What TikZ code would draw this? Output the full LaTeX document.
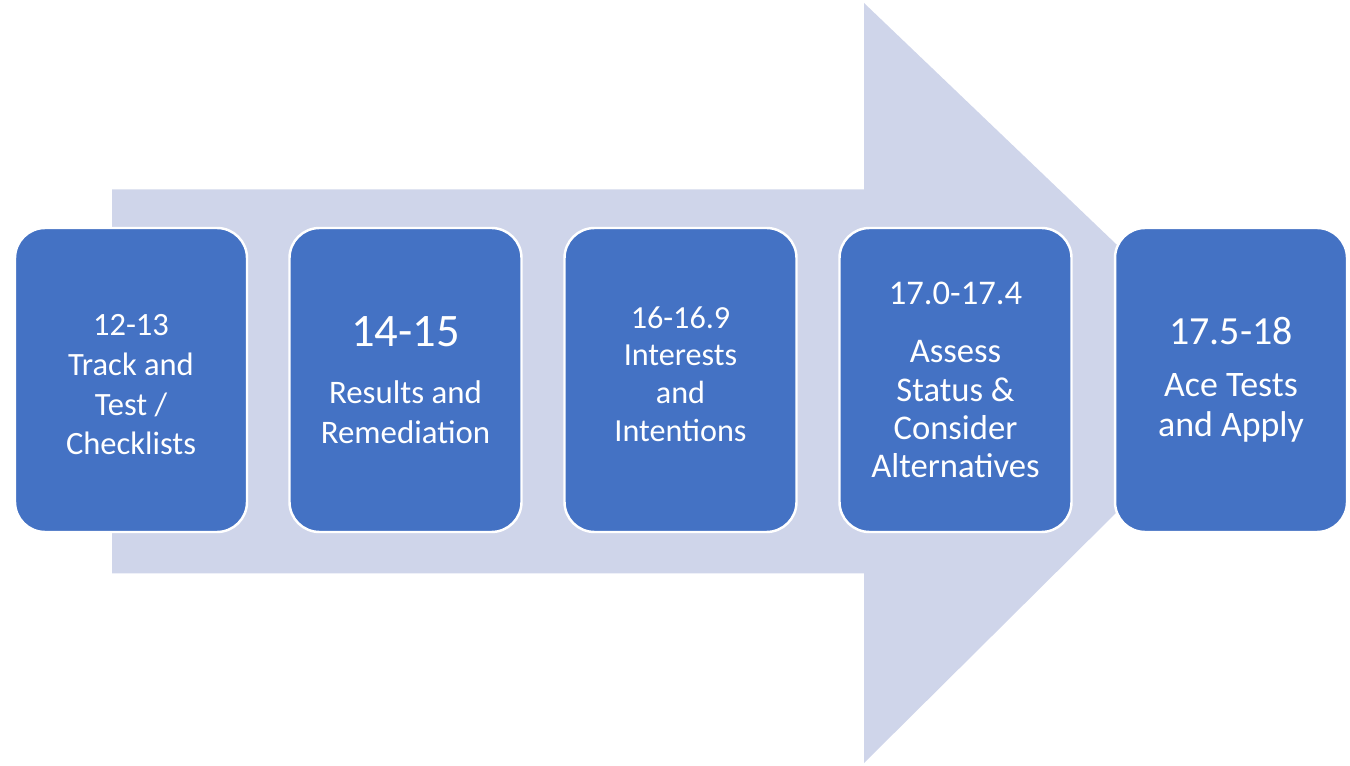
\documentclass[tikz,border=0pt]{standalone}
\usepackage{fontspec}
\setmainfont{Carlito}
\usepackage{xcolor}
\usepackage{tikz}
\definecolor{stageblue}{HTML}{4472C4}
\definecolor{arrowgrey}{HTML}{CFD5EA}
\tikzset{ stage_box/.style = {rectangle, rounded corners=0.6cm, draw=white, line width=1.4pt, fill=stageblue, text=white, align=center, minimum width=4.64cm, minimum height=6.08cm, inner sep=2pt} }
\tikzset{ big_arrow/.style = {fill=arrowgrey, draw=none} }

\begin{document}
\begin{tikzpicture}
            \useasboundingbox (0,0) rectangle (27,15.3);
            \fill[big_arrow] (2.24,3.83) -- (2.24,11.51) -- (17.28,11.51) -- (17.28,15.24) -- (25.08,7.78) -- (17.28,0.04) -- (17.28,3.83) -- cycle;
            \node[stage_box, font=\fontsize{18.5}{22.7}\selectfont] (0) at (2.62,7.7) {\rule{0pt}{17.3pt}12-13\\Track and\\Test /\\Checklists};
            \node[stage_box, font=\fontsize{18.7}{22.7}\selectfont] (1) at (8.11,7.7) {{\fontsize{26.5}{30}\selectfont 14-15}\\[10pt]Results and\\Remediation};
            \node[stage_box, font=\fontsize{18.3}{21.5}\selectfont] (2) at (13.61,7.7) {16-16.9\\Interests\\and\\Intentions\rule[-6.8pt]{0pt}{6.8pt}};
            \node[stage_box, font=\fontsize{19.7}{21.8}\selectfont] (3) at (19.11,7.7) {17.0-17.4\\[11.6pt]Assess\\Status \&\\Consider\\Alternatives};
            \node[stage_box, font=\fontsize{20.4}{22.7}\selectfont] (4) at (24.62,7.7) {{\fontsize{22.7}{26}\selectfont 17.5-18}\\[6.8pt]Ace Tests\\and Apply};
        \end{tikzpicture}
\end{document}
